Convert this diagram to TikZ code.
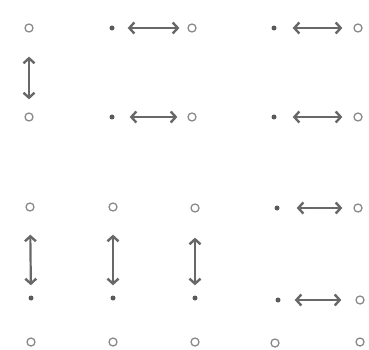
\documentclass[tikz,border=0pt]{standalone}
\usetikzlibrary{arrows.meta}
\definecolor{ringc}{HTML}{8A8A8A}
\definecolor{dotc}{HTML}{5A5A5A}
\definecolor{arrc}{HTML}{686868}
\begin{document}
\begin{tikzpicture}[x=1pt,y=-1pt,
  ring/.style={circle,draw=ringc,line width=1.3pt,inner sep=0pt,minimum size=8pt},
  pt/.style={circle,fill=dotc,inner sep=0pt,minimum size=5pt},
  dbl/.style={arrc,line width=2.2pt,{Straight Barb[length=5pt,width=11pt,line width=2.4pt]}-{Straight Barb[length=5pt,width=11pt,line width=2.4pt]}}]
\useasboundingbox (0,0) rectangle (369,350);
% row 1
\node[ring] (a1) at (29,28) {};
\node[pt]   (b1) at (112,28) {};
\node[ring] (c1) at (192,28) {};
\node[pt]   (d1) at (274,28) {};
\node[ring] (e1) at (358,28) {};
% row 2
\node[ring] (a2) at (29,117) {};
\node[pt]   (b2) at (112,117) {};
\node[ring] (c2) at (192,117) {};
\node[pt]   (d2) at (274,117) {};
\node[ring] (e2) at (358,117) {};
% row 3
\node[ring] (a3) at (30,207) {};
\node[ring] (b3) at (113,207) {};
\node[ring] (c3) at (195,208) {};
\node[pt]   (d3) at (277,208) {};
\node[ring] (e3) at (358,208) {};
% row 4
\node[pt]   (a4) at (31,298) {};
\node[pt]   (b4) at (113,298) {};
\node[pt]   (c4) at (195,298) {};
\node[pt]   (d4) at (278,300) {};
\node[ring] (e4) at (360,300) {};
% row 5
\node[ring] (a5) at (31,342) {};
\node[ring] (b5) at (113,342) {};
\node[ring] (c5) at (195,342) {};
\node[ring] (d5) at (275,343) {};
\node[ring] (e5) at (360,342) {};
% arrows
\draw[dbl,shorten <=24pt,shorten >=13pt] (a1) -- (a2);
\draw[dbl,shorten <=13pt,shorten >=8pt] (b1) -- (c1);
\draw[dbl,shorten <=16pt,shorten >=11pt] (d1) -- (e1);
\draw[dbl,shorten <=15pt,shorten >=10pt] (b2) -- (c2);
\draw[dbl,shorten <=16pt,shorten >=11pt] (d2) -- (e2);
\draw[dbl,shorten <=17pt,shorten >=11pt] (d3) -- (e3);
\draw[dbl,shorten <=14pt,shorten >=14pt] (d4) -- (e4);
\draw[dbl,shorten <=23pt,shorten >=10pt] (a3) -- (a4);
\draw[dbl,shorten <=23pt,shorten >=10pt] (b3) -- (b4);
\draw[dbl,shorten <=25pt,shorten >=10pt] (c3) -- (c4);
\end{tikzpicture}
\end{document}
